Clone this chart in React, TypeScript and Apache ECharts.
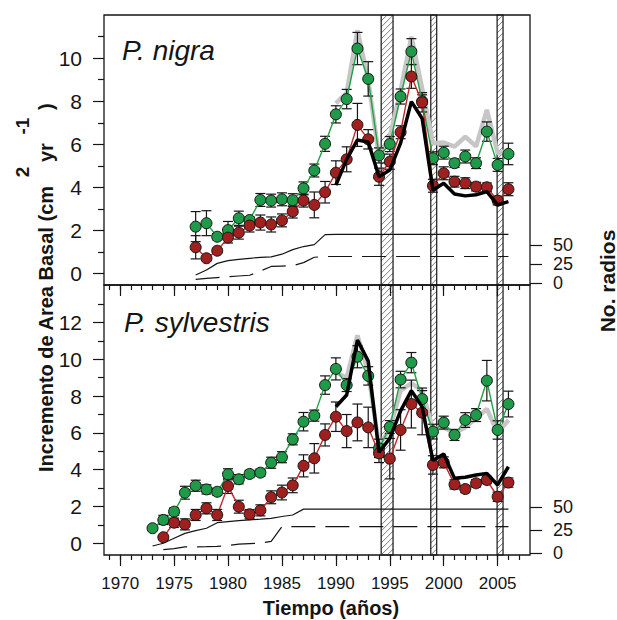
import React, { useEffect, useRef } from 'react';
import * as echarts from 'echarts';

// ---------- DATA ----------
const nigraYears = [1977, 1978, 1979, 1980, 1981, 1982, 1983, 1984, 1985, 1986, 1987, 1988, 1989, 1990, 1991, 1992, 1993, 1994, 1995, 1996, 1997, 1998, 1999, 2000, 2001, 2002, 2003, 2004, 2005, 2006];
const nigraGreen = [2.17, 2.33, 1.7, 2.01, 2.56, 2.48, 3.41, 3.38, 3.44, 3.4, 3.95, 4.78, 6.02, 7.39, 8.1, 10.45, 9.04, 5.48, 6.01, 8.22, 10.31, 8.0, 5.35, 5.61, 5.12, 5.43, 5.12, 6.59, 5.04, 5.55];
const nigraGreenErr = [0.7, 0.58, 0.15, 0.4, 0.33, 0.15, 0.3, 0.3, 0.3, 0.3, 0.3, 0.3, 0.35, 0.4, 0.45, 0.75, 0.8, 0.35, 0.35, 0.35, 0.6, 0.3, 0.3, 0.3, 0.2, 0.3, 0.25, 0.45, 0.3, 0.5];
const nigraRed = [1.21, 0.7, 1.05, 1.66, 1.89, 2.22, 2.36, 2.27, 2.46, 2.87, 3.38, 3.18, 3.77, 4.68, 5.3, 6.9, 6.23, 4.49, 5.19, 6.56, 9.15, 7.95, 4.07, 4.65, 4.26, 4.19, 4.03, 4.0, 3.38, 3.91];
const nigraRedErr = [0.54, 0.1, 0.1, 0.25, 0.3, 0.3, 0.35, 0.35, 0.3, 0.3, 0.3, 0.6, 0.5, 0.55, 0.58, 1.0, 0.45, 0.4, 0.35, 0.3, 0.55, 0.45, 0.3, 0.3, 0.25, 0.25, 0.2, 0.2, 0.2, 0.3];
const nigraRadiosSolid = [10.8, 17.4, 26, 29.5, 31.3, 32.6, 33.9, 34.5, 38, 44, 48, 50.5, 63.5, 64, 64, 64, 64, 64, 64, 64, 64, 64, 64, 64, 64, 64, 64, 64, 64, 64];
const nigraRadiosDashed = [5, 6.5, 7.5, 8.5, 9.5, 10.5, 16, 22, 22.5, 23, 27, 34, 35, 35, 35, 35, 35, 35, 35, 35, 35, 35, 35, 35, 35, 35, 35, 35, 35, 35];

const chronoYears = [1990, 1991, 1992, 1993, 1994, 1995, 1996, 1997, 1998, 1999, 2000, 2001, 2002, 2003, 2004, 2005, 2006];
const nigraBlack = [4.1, 5.3, 6.2, 6.1, 4.49, 4.8, 6.05, 7.98, 7.2, 3.87, 4.19, 3.69, 3.6, 3.65, 3.8, 3.18, 3.33];
const nigraGray = [7.9, 8.4, 11.3, 9.0, 5.4, 6.35, 8.5, 11.0, 8.6, 6.05, 6.08, 5.89, 6.35, 5.9, 7.6, 5.58, 5.7];

const sylvYears = [1973, 1974, 1975, 1976, 1977, 1978, 1979, 1980, 1981, 1982, 1983, 1984, 1985, 1986, 1987, 1988, 1989, 1990, 1991, 1992, 1993, 1994, 1995, 1996, 1997, 1998, 1999, 2000, 2001, 2002, 2003, 2004, 2005, 2006];
const sylvGreen = [0.82, 1.27, 1.72, 2.75, 3.13, 2.93, 2.8, 3.75, 3.48, 3.77, 3.84, 4.38, 4.68, 5.65, 6.61, 6.94, 8.6, 9.48, 8.6, 10.14, 9.1, 5.16, 6.32, 8.9, 9.82, 7.84, 6.07, 6.56, 5.89, 6.7, 6.97, 8.84, 6.16, 7.57];
const sylvGreenErr = [0.1, 0.25, 0.2, 0.35, 0.3, 0.25, 0.2, 0.3, 0.25, 0.2, 0.2, 0.3, 0.3, 0.3, 0.5, 0.3, 0.5, 0.6, 0.35, 0.6, 0.5, 0.5, 0.35, 0.45, 0.55, 0.6, 0.4, 0.35, 0.3, 0.4, 0.35, 1.1, 0.5, 0.7];
const sylvRedYears = [1974, 1975, 1976, 1977, 1978, 1979, 1980, 1981, 1982, 1983, 1984, 1985, 1986, 1987, 1988, 1989, 1990, 1991, 1992, 1993, 1994, 1995, 1996, 1997, 1998, 1999, 2000, 2001, 2002, 2003, 2004, 2005, 2006];
const sylvRed = [0.33, 1.12, 1.03, 1.54, 1.9, 1.54, 3.11, 1.99, 1.58, 1.79, 2.5, 2.76, 3.15, 4.21, 4.62, 5.89, 6.88, 6.1, 6.57, 6.3, 4.89, 4.6, 6.16, 7.57, 7.1, 4.26, 4.4, 3.2, 2.95, 3.26, 3.44, 2.53, 3.3];
const sylvRedErr = [0.1, 0.25, 0.3, 0.3, 0.3, 0.3, 0.4, 0.35, 0.25, 0.3, 0.35, 0.4, 0.4, 0.6, 0.8, 0.6, 0.8, 0.9, 1.0, 1.1, 0.5, 1.1, 1.1, 1.3, 1.2, 0.5, 0.3, 0.25, 0.2, 0.2, 0.2, 0.25, 0.25];
const sylvBlack = [7.42, 8.06, 11.05, 9.9, 4.95, 5.7, 7.2, 8.3, 7.42, 4.5, 4.85, 3.53, 3.59, 3.71, 3.8, 3.17, 4.16];
const sylvGray = [9.3, 9.0, 11.3, 9.3, 5.3, 6.2, 8.3, 8.7, 8.3, 6.2, 6.3, 6.0, 6.3, 6.8, 7.3, 6.0, 6.7];
const sylvRadiosSolid = [7.9, 10.9, 16.3, 21.7, 24.6, 27.2, 33.3, 34.4, 35.5, 36.3, 37.1, 38, 40, 41.6, 48, 48, 48, 48, 48, 48, 48, 48, 48, 48, 48, 48, 48, 48, 48, 48, 48, 48, 48, 48];
const sylvRadiosDashed = [4, 5, 7, 7, 7.2, 7.5, 8.5, 10, 10.5, 11, 13, 29, 29, 29, 29, 29, 29, 29, 29, 29, 29, 29, 29, 29, 29, 29, 29, 29, 29, 29, 29, 29, 29];

const hatchIntervals = [[1994.2, 1995.3], [1998.8, 1999.35], [2004.95, 2005.5]];

const majorYearTicks = [1970, 1975, 1980, 1985, 1990, 1995, 2000, 2005];
const minorYearTicks = [1969, 1970, 1971, 1972, 1973, 1974, 1975, 1976, 1977, 1978, 1979, 1980, 1981, 1982, 1983, 1984, 1985, 1986, 1987, 1988, 1989, 1990, 1991, 1992, 1993, 1994, 1995, 1996, 1997, 1998, 1999, 2000, 2001, 2002, 2003, 2004, 2005, 2006, 2007];
const topMajorY = [0, 2, 4, 6, 8, 10];
const topMinorY = [1, 3, 5, 7, 9, 11];
const botMajorY = [0, 2, 4, 6, 8, 10, 12];
const botMinorY = [1, 3, 5, 7, 9, 11, 13];
const radiosTicks = [0, 25, 50];

// ---------- STYLE ----------
const FONT = '"Liberation Sans", Arial, sans-serif';
const INK = '#151515';
const GREEN = '#1f9a48';
const GREEN_LINE = '#23a043';
const RED = '#a0201f';
const RED_LINE = '#c0292b';

const zip = (xs: number[], ys: number[]) => xs.map((x, i) => [x, ys[i]]);
const zip3 = (xs: number[], ys: number[], es: number[]) => xs.map((x, i) => [x, ys[i], es[i]]);

function errRender(params: any, api: any) {
  const x = api.value(0), v = api.value(1), e = api.value(2);
  const t = api.coord([x, v + e]);
  const b = api.coord([x, v - e]);
  const cap = 5;
  const st = { stroke: INK, lineWidth: 1.2 };
  return {
    type: 'group',
    children: [
      { type: 'line', shape: { x1: t[0], y1: t[1], x2: b[0], y2: b[1] }, style: st },
      { type: 'line', shape: { x1: t[0] - cap, y1: t[1], x2: t[0] + cap, y2: t[1] }, style: st },
      { type: 'line', shape: { x1: b[0] - cap, y1: b[1], x2: b[0] + cap, y2: b[1] }, style: st },
    ],
  };
}

function hatchRender(params: any, api: any) {
  const cs = params.coordSys;
  const xa = api.coord([api.value(0), 0])[0];
  const xb = api.coord([api.value(1), 0])[0];
  const ya = cs.y, yb = cs.y + cs.height;
  const children: any[] = [];
  const step = 6;
  for (let c = xa + ya; c <= xb + yb; c += step) {
    const xs = Math.max(xa, c - yb);
    const xe = Math.min(xb, c - ya);
    if (xe > xs) {
      children.push({ type: 'line', shape: { x1: xs, y1: c - xs, x2: xe, y2: c - xe }, style: { stroke: '#555', lineWidth: 0.8 } });
    }
  }
  children.push({ type: 'rect', shape: { x: xa, y: ya, width: xb - xa, height: yb - ya }, style: { fill: 'none', stroke: INK, lineWidth: 1.2 } });
  return { type: 'group', children };
}

function xAxes(gridIndex: number, labels: boolean) {
  return [
    {
      gridIndex, type: 'value', min: 1968.5, max: 2008, position: 'bottom',
      axisLine: { show: false, onZero: false }, splitLine: { show: false },
      axisTick: { show: true, length: 11, customValues: majorYearTicks, lineStyle: { color: INK, width: 1.2 } },
      axisLabel: labels
        ? { show: true, customValues: majorYearTicks, margin: 20, fontSize: 17, fontFamily: FONT, color: INK, formatter: (v: number) => String(v) }
        : { show: false },
    },
    {
      gridIndex, type: 'value', min: 1968.5, max: 2008, position: 'bottom',
      axisLine: { show: false, onZero: false }, splitLine: { show: false },
      axisTick: { show: true, length: 5, customValues: minorYearTicks, lineStyle: { color: INK, width: 1.2 } },
      axisLabel: { show: false },
    },
  ];
}

function yAxes(gridIndex: number, min: number, max: number, major: number[], minor: number[], rmin: number, rmax: number) {
  return [
    {
      gridIndex, type: 'value', min, max, position: 'left',
      axisLine: { show: false, onZero: false }, splitLine: { show: false },
      axisTick: { show: true, length: 11, customValues: major, lineStyle: { color: INK, width: 1.2 } },
      axisLabel: { show: true, customValues: major, margin: 22, fontSize: 21, fontFamily: FONT, color: INK },
    },
    {
      gridIndex, type: 'value', min, max, position: 'left',
      axisLine: { show: false, onZero: false }, splitLine: { show: false },
      axisTick: { show: true, length: 6, customValues: minor, lineStyle: { color: INK, width: 1.2 } },
      axisLabel: { show: false },
    },
    {
      gridIndex, type: 'value', min: rmin, max: rmax, position: 'right',
      axisLine: { show: false, onZero: false }, splitLine: { show: false },
      axisTick: { show: true, length: 12, customValues: radiosTicks, lineStyle: { color: INK, width: 1.2 } },
      axisLabel: { show: true, customValues: radiosTicks, margin: 23, fontSize: 18, fontFamily: FONT, color: INK },
    },
  ];
}

function panelSeries(xi: number, yi: number, yr: number, d: any) {
  const base = { xAxisIndex: xi, silent: true, animation: false };
  return [
    { ...base, type: 'custom', yAxisIndex: yi, z: 1, renderItem: hatchRender, data: hatchIntervals.map((h) => [h[0], h[1], 0]), encode: { x: [0, 1], y: 2 } },
    { ...base, type: 'line', yAxisIndex: yr, z: 2, symbol: 'none', data: zip(d.years, d.solid), lineStyle: { color: INK, width: 1.2 } },
    { ...base, type: 'line', yAxisIndex: yr, z: 2, symbol: 'none', data: zip(d.dashYears, d.dashed), lineStyle: { color: INK, width: 1.2, type: [24, 10] } },
    { ...base, type: 'line', yAxisIndex: yi, z: 3, symbol: 'none', data: zip(chronoYears, d.gray), lineStyle: { color: '#c6c6c6', width: 4.5 } },
    { ...base, type: 'custom', yAxisIndex: yi, z: 4, renderItem: errRender, data: zip3(d.gYears, d.green, d.greenErr), encode: { x: 0, y: 1 } },
    { ...base, type: 'custom', yAxisIndex: yi, z: 4, renderItem: errRender, data: zip3(d.rYears, d.red, d.redErr), encode: { x: 0, y: 1 } },
    { ...base, type: 'line', yAxisIndex: yi, z: 5, symbol: 'circle', symbolSize: 11, showAllSymbol: true, data: zip(d.gYears, d.green), lineStyle: { color: GREEN_LINE, width: 1.4 }, itemStyle: { color: GREEN, borderColor: INK, borderWidth: 1 } },
    { ...base, type: 'line', yAxisIndex: yi, z: 6, symbol: 'circle', symbolSize: 11, showAllSymbol: true, data: zip(d.rYears, d.red), lineStyle: { color: RED_LINE, width: 1.4 }, itemStyle: { color: RED, borderColor: INK, borderWidth: 1 } },
    { ...base, type: 'line', yAxisIndex: yi, z: 7, symbol: 'none', data: zip(chronoYears, d.black), lineStyle: { color: '#000', width: 3.5 } },
  ];
}

export default function App() {
  const ref = useRef<HTMLDivElement>(null);
  useEffect(() => {
    if (!ref.current) return;
    const chart = echarts.init(ref.current, null, { renderer: 'svg' });
    const gridStyle = { show: true, borderColor: INK, borderWidth: 1.3, backgroundColor: 'transparent', containLabel: false };
    const option: any = {
      animation: false,
      backgroundColor: '#fff',
      grid: [
        { ...gridStyle, left: 104, top: 15, width: 426, height: 270 },
        { ...gridStyle, left: 104, top: 285, width: 426, height: 270 },
      ],
      xAxis: [...xAxes(0, false), ...xAxes(1, true)],
      yAxis: [
        ...yAxes(0, -0.544, 12.01, topMajorY, topMinorY, -2.22, 350.3),
        ...yAxes(1, -0.636, 14.04, botMajorY, botMinorY, -1.85, 291.6),
      ],
      series: [
        ...panelSeries(0, 0, 2, {
          years: nigraYears, solid: nigraRadiosSolid, dashYears: nigraYears, dashed: nigraRadiosDashed,
          gray: nigraGray, black: nigraBlack,
          gYears: nigraYears, green: nigraGreen, greenErr: nigraGreenErr,
          rYears: nigraYears, red: nigraRed, redErr: nigraRedErr,
        }),
        ...panelSeries(2, 3, 5, {
          years: sylvYears, solid: sylvRadiosSolid, dashYears: sylvRedYears, dashed: sylvRadiosDashed,
          gray: sylvGray, black: sylvBlack,
          gYears: sylvYears, green: sylvGreen, greenErr: sylvGreenErr,
          rYears: sylvRedYears, red: sylvRed, redErr: sylvRedErr,
        }),
      ],
      graphic: [
        { type: 'text', x: 122, y: 50, silent: true, style: { text: 'P. nigra', fontSize: 28, fontStyle: 'italic', fontFamily: FONT, fill: INK, align: 'left', verticalAlign: 'middle' } },
        { type: 'text', x: 124, y: 322, silent: true, style: { text: 'P. sylvestris', fontSize: 28, fontStyle: 'italic', fontFamily: FONT, fill: INK, align: 'left', verticalAlign: 'middle' } },
        { type: 'text', x: 331, y: 608, silent: true, style: { text: 'Tiempo (años)', fontSize: 20, fontWeight: 'bold', fontFamily: FONT, fill: INK, align: 'center', verticalAlign: 'middle' } },
        {
          type: 'group', x: 46, y: 472, rotation: Math.PI / 2, silent: true,
          children: [
            { type: 'text', x: 0, y: 0, style: { text: 'Incremento de Area Basal (cm', fontSize: 20, fontWeight: 'bold', fontFamily: FONT, fill: INK, align: 'left', verticalAlign: 'middle' } },
            { type: 'text', x: 300, y: -24, style: { text: '2', fontSize: 19, fontWeight: 'bold', fontFamily: FONT, fill: INK, align: 'center', verticalAlign: 'middle' } },
            { type: 'text', x: 310, y: 0, style: { text: 'yr', fontSize: 20, fontWeight: 'bold', fontFamily: FONT, fill: INK, align: 'left', verticalAlign: 'middle' } },
            { type: 'text', x: 346, y: -24, style: { text: '-1', fontSize: 19, fontWeight: 'bold', fontFamily: FONT, fill: INK, align: 'center', verticalAlign: 'middle' } },
            { type: 'text', x: 362, y: 0, style: { text: ')', fontSize: 20, fontWeight: 'bold', fontFamily: FONT, fill: INK, align: 'left', verticalAlign: 'middle' } },
          ],
        },
        {
          type: 'group', x: 607, y: 281, rotation: Math.PI / 2, silent: true,
          children: [
            { type: 'text', x: 0, y: 0, style: { text: 'No. radios', fontSize: 21, fontWeight: 'bold', fontFamily: FONT, fill: INK, align: 'center', verticalAlign: 'middle' } },
          ],
        },
      ],
    };
    chart.setOption(option);
    return () => chart.dispose();
  }, []);
  return <div ref={ref} style={{ position: 'absolute', left: 0, top: 0, width: 617, height: 620, background: '#fff' }} />;
}
